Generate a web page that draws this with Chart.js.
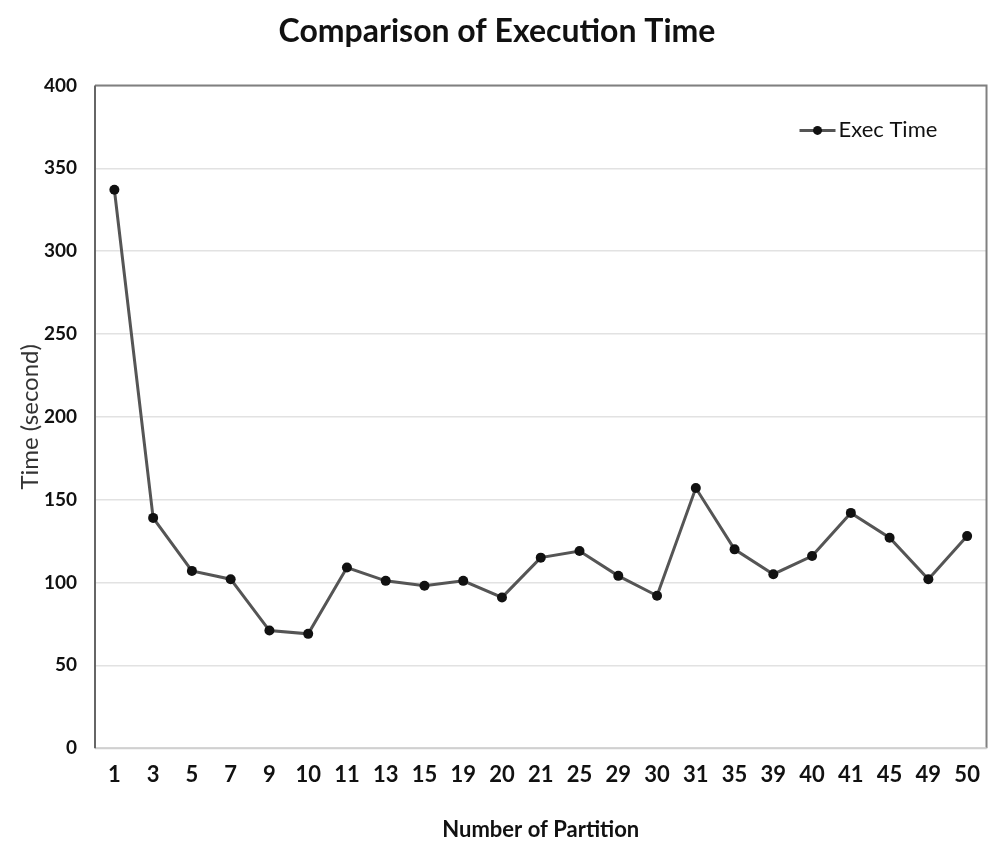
<!DOCTYPE html>
<html>
<head>
<meta charset="utf-8">
<script src="https://cdn.jsdelivr.net/npm/chart.js@4.4.1/dist/chart.umd.min.js"></script>
<style>
html,body{margin:0;padding:0;background:#fff;}
#wrap{width:994px;height:843px;position:relative;}
</style>
</head>
<body>
<div id="wrap"><canvas id="c" width="994" height="843"></canvas></div>
<script>
const categories = ['1','3','5','7','9','10','11','13','15','19','20','21','25','29','30','31','35','39','40','41','45','49','50'];
const execTime = [337,139,107,102,71,69,109,101,98,101,91,115,119,104,92,157,120,105,116,142,127,102,128];
const seriesName = 'Exec Time';
const FONT = "'Liberation Sans Narrow', 'Lato', 'Open Sans', sans-serif";

const boxPlugin = {
  id: 'boxAndLegend',
  afterDraw(chart) {
    const {ctx, chartArea: a} = chart;
    ctx.save();
    ctx.lineWidth = 2;
    ctx.strokeStyle = '#808080';
    ctx.beginPath();
    ctx.moveTo(a.left, a.top); ctx.lineTo(a.right, a.top); ctx.lineTo(a.right, a.bottom);
    ctx.stroke();
    ctx.strokeStyle = '#d0d0d0';
    ctx.beginPath();
    ctx.moveTo(a.left, a.bottom); ctx.lineTo(a.right, a.bottom);
    ctx.stroke();
    ctx.strokeStyle = '#666';
    ctx.beginPath();
    ctx.moveTo(a.left, a.top); ctx.lineTo(a.left, a.bottom);
    ctx.stroke();
    // legend
    const lx = a.right - 187, ly = a.top + 45;
    ctx.strokeStyle = '#555';
    ctx.lineWidth = 3;
    ctx.beginPath(); ctx.moveTo(lx, ly); ctx.lineTo(lx + 36, ly); ctx.stroke();
    ctx.fillStyle = '#111';
    ctx.beginPath(); ctx.arc(lx + 18, ly, 4.5, 0, Math.PI * 2); ctx.fill();
    ctx.font = "22px " + FONT;
    ctx.textBaseline = 'middle';
    ctx.fillStyle = '#111';
    ctx.fillText(seriesName, lx + 39, ly);
    ctx.restore();
  }
};

new Chart(document.getElementById('c'), {
  type: 'line',
  data: {
    labels: categories,
    datasets: [{
      label: seriesName,
      data: execTime,
      borderColor: '#555555',
      borderWidth: 3,
      pointRadius: 5,
      pointBackgroundColor: '#111',
      pointBorderColor: '#111',
      pointBorderWidth: 0,
      tension: 0,
      fill: false
    }]
  },
  options: {
    responsive: false,
    animation: false,
    layout: { padding: { left: 0, right: 0, top: 8, bottom: 0 } },
    plugins: {
      legend: { display: false },
      tooltip: { enabled: false },
      title: {
        display: true,
        text: 'Comparison of Execution Time',
        color: '#111',
        font: { family: FONT, size: 32, weight: 'bold' },
        padding: { top: 4, bottom: 35 }
      }
    },
    scales: {
      x: {
        offset: true,
        grid: { display: false, drawTicks: false },
        border: { display: false },
        ticks: { color: '#111', font: { family: FONT, size: 22, weight: 'bold' }, padding: 14, maxRotation: 0, autoSkip: false },
        title: { display: true, text: 'Number of Partition', color: '#111', font: { family: FONT, size: 22, weight: 'bold' }, padding: { top: 14, bottom: 0 } }
      },
      y: {
        min: 0, max: 400,
        afterFit(scale) { scale.width = 95; },
        ticks: { stepSize: 50, color: '#111', font: { family: FONT, size: 19, weight: 'bold' }, padding: 18 },
        grid: { color: '#e2e2e2', lineWidth: 1.5, drawTicks: false },
        border: { display: false },
        title: { display: true, text: 'Time (second)', color: '#333', font: { family: FONT, size: 24 }, padding: { top: 16, bottom: 0 } }
      }
    }
  },
  plugins: [boxPlugin]
});
</script>
</body>
</html>
